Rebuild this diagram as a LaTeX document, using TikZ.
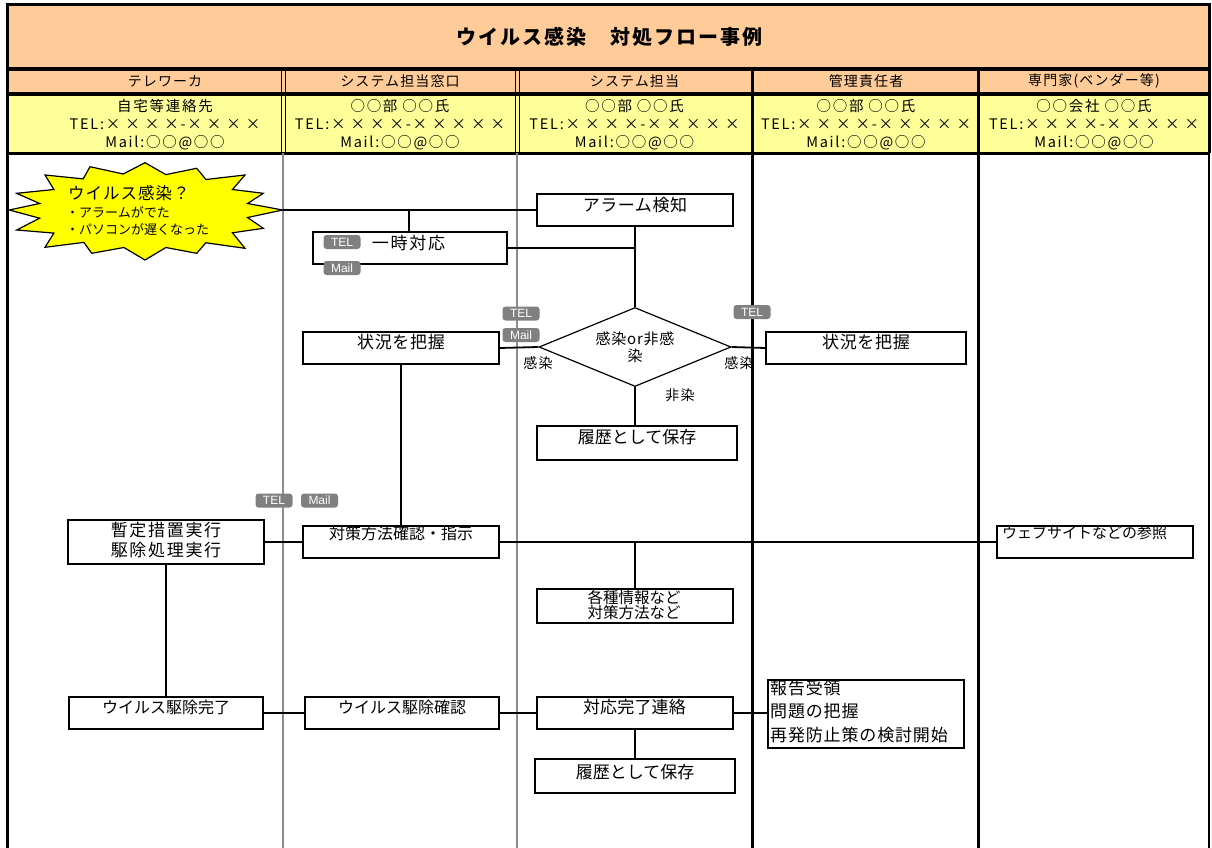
\documentclass[tikz,border=0pt]{standalone}
\usepackage{fontspec}
\setmainfont{Noto Sans CJK JP}
\newfontfamily\badgefont{Liberation Sans}
\usetikzlibrary{shapes.geometric,calc}
\definecolor{peach}{HTML}{FFCC99}
\definecolor{lyellow}{HTML}{FFFF99}
\definecolor{burstyellow}{HTML}{FFFF00}
\definecolor{divgray}{HTML}{8C8C8C}
\definecolor{badgegray}{HTML}{808080}
\newcommand\fs[3]{\fontsize{#1}{#3}\selectfont\addfontfeatures{LetterSpace=#2}}
\tikzset{
  box/.style={draw=black, line width=1.2pt, fill=white, inner sep=0pt},
  conn/.style={draw=black, line width=1.8pt},
  lbl/.style={inner sep=0pt, anchor=center},
  badge/.style={fill=badgegray, rounded corners=3pt, inner sep=0pt, minimum width=37pt, minimum height=14pt, text=white, font=\badgefont\fontsize{12}{12}\selectfont},
  hdr/.style={inner sep=0pt, font=\fs{14}{8}{14}},
  info/.style={inner sep=0pt, font=\fs{14.5}{12}{14}},
  thickline/.style={line width=3pt, black},
  grayline/.style={line width=1.2pt, divgray},
  dbl/.style={line width=1pt, black},
}
\begin{document}
\begin{tikzpicture}[x=1pt,y=-1pt]
\useasboundingbox (0,0) rectangle (1212,848);
% bands
\fill[peach] (7,5) rectangle (1209,94);
\fill[lyellow] (7,94) rectangle (1209,153);
% title and headers
\node[inner sep=0pt, font=\fs{20}{10}{20}\bfseries] (title) at (609,37) {ウイルス感染　対処フロー事例};
\node[hdr] (h1) at (165,81) {テレワーカ};
\node[hdr] (h2) at (400,81) {システム担当窓口};
\node[hdr] (h3) at (634.5,81) {システム担当};
\node[hdr] (h4) at (866,81) {管理責任者};
\node[hdr] (h5) at (1094,81) {専門家(ベンダー等)};
% info rows
\node[info] (i1a) at (165,106) {自宅等連絡先};
\node[info] (i1b) at (165,124) {TEL:× × × ×-× × × ×};
\node[info] (i1c) at (165,143) {Mail:○○@○○};
\node[info] (i2a) at (400,106) {○○部 ○○氏};
\node[info] (i2b) at (400,124) {TEL:× × × ×-× × × × ×};
\node[info] (i2c) at (400,143) {Mail:○○@○○};
\node[info] (i3a) at (634.5,106) {○○部 ○○氏};
\node[info] (i3b) at (634.5,124) {TEL:× × × ×-× × × × ×};
\node[info] (i3c) at (634.5,143) {Mail:○○@○○};
\node[info] (i4a) at (866,106) {○○部 ○○氏};
\node[info] (i4b) at (866,124) {TEL:× × × ×-× × × × ×};
\node[info] (i4c) at (866,143) {Mail:○○@○○};
\node[info] (i5a) at (1094,106) {○○会社 ○○氏};
\node[info] (i5b) at (1094,124) {TEL:× × × ×-× × × × ×};
\node[info] (i5c) at (1094,143) {Mail:○○@○○};
% frame lines
\draw[line width=3pt] (7,5) -- (1209,5);
\draw[line width=4pt] (7,69) -- (1209,69);
\draw[line width=4pt] (7,94) -- (1209,94);
\draw[line width=3pt] (7,153) -- (1209,153);
\draw[thickline] (7,3.5) -- (7,848);
\draw[thickline] (1209,3.5) -- (1209,153);
\draw[line width=1.5pt] (1209,153) -- (1209,848);
\draw[dbl] (281,69) -- (281,153) (285,69) -- (285,153);
\draw[dbl] (515,69) -- (515,153) (519,69) -- (519,153);
\draw[grayline] (283,153) -- (283,848);
\draw[grayline] (517,153) -- (517,848);
\draw[thickline] (752,67) -- (752,848);
\draw[thickline] (978,67) -- (978,848);
% starburst
\filldraw[fill=burstyellow, draw=black, line width=1.2pt]
  (9.3,210) -- (39.6,203.5) -- (16.7,193.3) -- (53.9,189.5) -- (45,175) -- (83.2,178.9)
  -- (90,166.7) -- (123.2,174) -- (145,162.7) -- (165.9,174.6) -- (196.7,168.3) -- (205.9,179.5)
  -- (245,175) -- (232.5,189.5) -- (263.3,193.3) -- (247.6,203.5) -- (282.7,210) -- (247.6,217.5)
  -- (263.3,228.3) -- (232.5,232.8) -- (245,248.3) -- (205.9,242.8) -- (196.7,253.3) -- (165.9,247.5)
  -- (145,260) -- (123.9,247.5) -- (91.7,253.3) -- (83.9,242.4) -- (45,247.3) -- (53.9,233.1)
  -- (16.7,230) -- (39.6,218.2) -- cycle;
\coordinate (bursttip) at (282.7,210);
\node[inner sep=0pt, anchor=west, font=\fs{16.5}{6}{16}] (b1) at (68,193) {ウイルス感染？};
\node[inner sep=0pt, anchor=west, font=\fs{13}{0}{13}] (b2) at (66,212) {・アラームがでた};
\node[inner sep=0pt, anchor=west, font=\fs{13}{0}{13}] (b3) at (66,229) {・パソコンが遅くなった};
% boxes
\node[box, minimum width=195pt, minimum height=32pt] (alarm) at (635,210) {};
\node[box, minimum width=193pt, minimum height=32pt] (ichiji) at (410,248) {};
\node[draw, diamond, line width=1.2pt, fill=white, minimum width=192pt, minimum height=79pt, aspect=2.43, inner sep=0pt, align=center, font=\fs{15}{5}{17}] (dia) at (635,347) {感染or非感\\染};
\node[box, minimum width=196pt, minimum height=32pt] (jkL) at (401,348) {};
\node[box, minimum width=199pt, minimum height=32pt] (jkR) at (866,348) {};
\node[box, minimum width=199pt, minimum height=33pt] (rireki1) at (637,443) {};
\node[box, minimum width=195pt, minimum height=44pt] (zantei) at (166,542) {};
\node[box, minimum width=196pt, minimum height=32pt] (taisaku) at (401,542) {};
\node[box, minimum width=195pt, minimum height=33pt] (kakushu) at (635,606) {};
\node[box, minimum width=196pt, minimum height=32pt] (web) at (1095,542) {};
\node[box, minimum width=194pt, minimum height=32pt] (kanryo) at (166,713) {};
\node[box, minimum width=194pt, minimum height=32pt] (kakunin) at (402,713) {};
\node[box, minimum width=195pt, minimum height=32pt] (taiou) at (635,713) {};
\node[box, minimum width=196pt, minimum height=68pt] (houkoku) at (866,714) {};
\node[box, minimum width=200pt, minimum height=33pt] (rireki2) at (635,776) {};
% connectors
\draw[conn] (bursttip) -- (alarm.west);
\draw[conn] (ichiji.north -| 409,0) -- (bursttip -| 409,0);
\draw[conn] (ichiji.east) -- (ichiji.east -| alarm.south);
\draw[conn] (alarm.south) -- (dia.north);
\draw[conn] (dia.west) -- (jkL.east);
\draw[conn] (dia.east) -- (jkR.west);
\draw[conn] (dia.south) -- (dia.south |- rireki1.north);
\draw[conn] (jkL.south) -- (taisaku.north);
\draw[conn] (zantei.east) -- (taisaku.west);
\draw[conn] (taisaku.east) -- (web.west);
\draw[conn] (kakushu.north) -- (kakushu.north |- taisaku.east);
\draw[conn] (zantei.south) -- (zantei.south |- kanryo.north);
\draw[conn] (kanryo.east) -- (kakunin.west);
\draw[conn] (kakunin.east) -- (taiou.west);
\draw[conn] (taiou.east) -- (taiou.east -| houkoku.west);
\draw[conn] (taiou.south) -- (taiou.south |- rireki2.north);
% redraw box outlines over connectors
\foreach \n in {alarm,ichiji,jkL,jkR,rireki1,zantei,taisaku,kakushu,web,kanryo,kakunin,taiou,houkoku,rireki2}{
  \draw[line width=1.2pt] (\n.north west) rectangle (\n.south east);
}
% box texts
\node[lbl, font=\fs{17}{3}{17}] (alarm-t) at (635,205) {アラーム検知};
\node[lbl, font=\fs{17}{10}{17}] (ichiji-t) at (408.5,243) {一時対応};
\node[lbl, font=\fs{17}{4}{17}] (jkL-t) at (401,342) {状況を把握};
\node[lbl, font=\fs{17}{4}{17}] (jkR-t) at (866,342) {状況を把握};
\node[lbl, font=\fs{17}{0}{17}] (rireki1-t) at (637,437) {履歴として保存};
\node[lbl, font=\fs{16}{0}{16}] (taisaku-t) at (401,533) {対策方法確認・指示};
\node[lbl, align=center, font=\fs{17}{10}{20}] (zantei-t) at (166,540) {暫定措置実行\\駆除処理実行};
\node[lbl, align=center, font=\fs{15.5}{0}{15}] (kakushu-t) at (634,605.5) {各種情報など\\対策方法など};
\node[inner sep=0pt, anchor=west, font=\fs{15}{0}{15}] (web-t) at (1002,533) {ウェブサイトなどの参照};
\node[lbl, font=\fs{16}{0}{16}] (kanryo-t) at (166,707) {ウイルス駆除完了};
\node[lbl, font=\fs{16}{0}{16}] (kakunin-t) at (402,707) {ウイルス駆除確認};
\node[lbl, font=\fs{17}{1}{17}] (taiou-t) at (634.5,707) {対応完了連絡};
\node[inner sep=0pt, anchor=west, align=left, font=\fs{17}{5}{23.5}] (houkoku-t) at (770,711.5) {報告受領\\問題の把握\\再発防止策の検討開始};
\node[lbl, font=\fs{17}{0}{17}] (rireki2-t) at (635,772) {履歴として保存};
% diamond labels
\node[lbl, font=\fs{14}{10}{14}] (lkL) at (538,363) {感染};
\node[lbl, font=\fs{14}{10}{14}] (lkR) at (739,363) {感染};
\node[lbl, font=\fs{14}{10}{14}] (lhs) at (680,395) {非染};
% badges
\node[badge] (tel1) at (342,242) {TEL};
\node[badge] (mail1) at (342,268) {Mail};
\node[badge] (tel2) at (521,313.5) {TEL};
\node[badge] (mail2) at (521,335) {Mail};
\node[badge] (tel3) at (752,312) {TEL};
\node[badge] (tel4) at (274,500.5) {TEL};
\node[badge] (mail4) at (319.5,500.5) {Mail};
\end{tikzpicture}
\end{document}
